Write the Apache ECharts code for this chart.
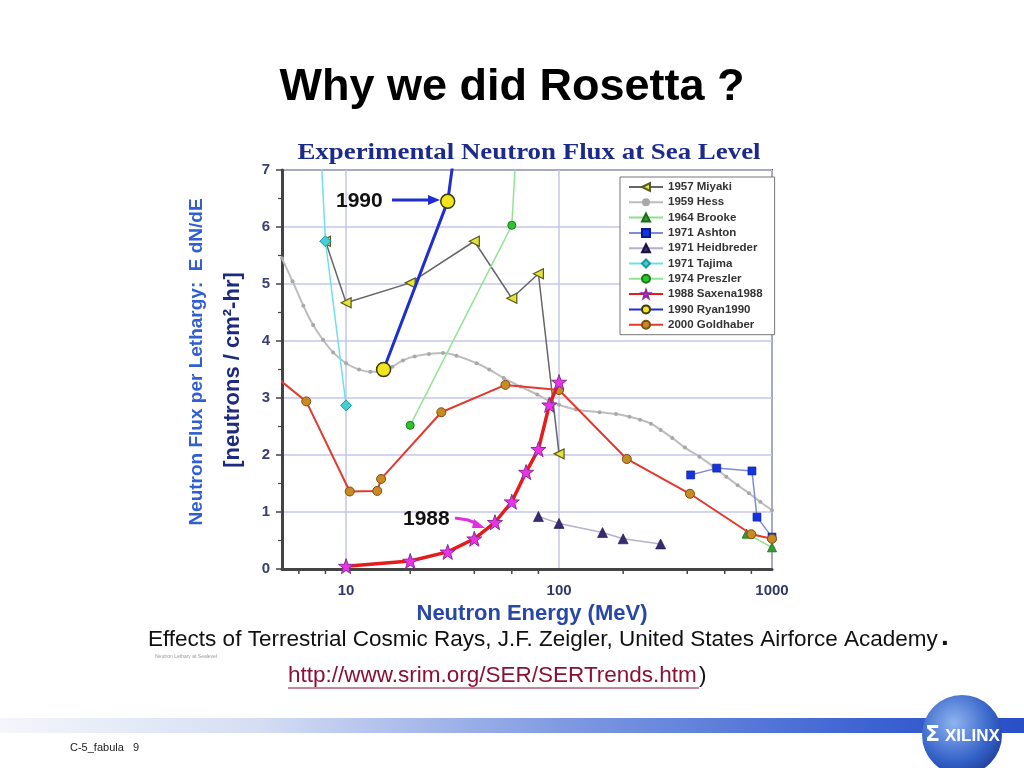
<!DOCTYPE html>
<html>
<head>
<meta charset="utf-8">
<script src="https://cdn.jsdelivr.net/npm/echarts@6/dist/echarts.min.js"></script>
<style>
html,body{margin:0;padding:0;background:#fff;}
#c{width:1024px;height:768px;}
</style>
</head>
<body>
<div id="c"></div>
<script>
// ---- data (x = neutron energy MeV, y = flux) ----
const miyakiX = [8, 10, 20, 40, 60, 80, 100];
const miyakiY = [5.75, 4.67, 5.02, 5.75, 4.75, 5.18, 2.02];

const hessX = [5, 5.6, 6.3, 7, 7.8, 8.7, 10, 11.5, 13, 15, 16.5, 18.5, 21, 24.5, 28.5, 33, 41, 47, 55, 66, 79, 90, 100, 120, 155, 185, 214, 240, 270, 300, 340, 390, 456, 530, 610, 690, 780, 880, 1000];
const hessY = [5.45, 5.05, 4.62, 4.28, 4.02, 3.80, 3.61, 3.50, 3.46, 3.47, 3.55, 3.66, 3.73, 3.77, 3.79, 3.74, 3.61, 3.50, 3.35, 3.20, 3.06, 2.95, 2.88, 2.80, 2.75, 2.72, 2.67, 2.62, 2.55, 2.44, 2.30, 2.13, 1.97, 1.80, 1.62, 1.47, 1.33, 1.18, 1.03];

const brookeX = [760, 1000];
const brookeY = [0.62, 0.38];

const ashtonX = [415, 550, 805, 850, 1000];
const ashtonY = [1.65, 1.77, 1.72, 0.91, 0.56];

const heidX = [80, 100, 160, 200, 300];
const heidY = [0.92, 0.80, 0.64, 0.53, 0.44];

const tajimaX = [7.5, 8, 10];
const tajimaY = [7.8, 5.75, 2.87];

const preszlerX = [20, 60, 65];
const preszlerY = [2.52, 6.03, 8.3];

const saxenaX = [10, 20, 30, 40, 50, 60, 70, 80, 90, 100];
const saxenaY = [0.05, 0.14, 0.30, 0.53, 0.82, 1.18, 1.70, 2.10, 2.88, 3.28];

const ryanX = [15, 30, 35];
const ryanY = [3.5, 6.45, 8.3];

const goldX = [4.5, 6.5, 10.4, 14, 14.6, 28, 56, 100, 208, 412, 800, 1000];
const goldY = [3.42, 2.94, 1.36, 1.37, 1.58, 2.75, 3.23, 3.14, 1.93, 1.32, 0.61, 0.53];

const xMinorTicks = [6, 8, 20, 40, 60, 80, 200, 400, 600, 800];
const yTicks = [0, 1, 2, 3, 4, 5, 6, 7];
const xTickLabels = [10, 100, 1000];

const names = ['1957 Miyaki', '1959 Hess', '1964 Brooke', '1971 Ashton', '1971 Heidbreder', '1971 Tajima', '1974 Preszler', '1988 Saxena1988', '1990 Ryan1990', '2000 Goldhaber'];

function pairs(xs, ys) { return xs.map((x, i) => [x, ys[i]]); }

const chart = echarts.init(document.getElementById('c'), null, {renderer: 'canvas'});

const option = {
  backgroundColor: '#ffffff',
  animation: false,
  grid: {left: 282, right: 252, top: 170, bottom: 199, show: true, borderColor: '#555', borderWidth: 2, backgroundColor: 'transparent'},
  legend: {
    data: names,
    orient: 'vertical',
    left: 620, top: 177,
    itemWidth: 34, itemHeight: 10, itemGap: 3.3,
    padding: [4, 12, 4, 8],
    backgroundColor: '#fff',
    borderColor: '#777', borderWidth: 1,
    textStyle: {fontFamily: 'Liberation Sans, Arial', fontSize: 11.5, fontWeight: 'bold', color: '#333'},
    selectedMode: false
  },
  xAxis: {
    type: 'log', logBase: 10, min: 5, max: 1000,
    axisLine: {show: true, lineStyle: {color: '#444', width: 3}},
    axisTick: {show: false},
    axisLabel: {
      margin: 14,
      fontFamily: 'Liberation Sans, Arial', fontSize: 15, fontWeight: 'bold', color: '#2f3a6a',
      formatter: function (v) {
        const r = xTickLabels.find(t => Math.abs(t - v) / t < 1e-6);
        return r ? String(r) : '';
      }
    },
    splitLine: {show: true, lineStyle: {color: '#c4c6ea', width: 1.5}}
  },
  yAxis: {
    type: 'value', min: 0, max: 7, interval: 1,
    axisLine: {show: true, lineStyle: {color: '#444', width: 3}},
    axisTick: {show: true, length: 6, lineStyle: {color: '#444', width: 1.5}},
    minorTick: {show: true, splitNumber: 2, length: 4, lineStyle: {color: '#444', width: 1.2}},
    axisLabel: {margin: 12, fontFamily: 'Liberation Sans, Arial', fontSize: 15, fontWeight: 'bold', color: '#3a4072',
      formatter: v => (yTicks.indexOf(v) >= 0 ? String(v) : '')},
    splitLine: {show: true, lineStyle: {color: '#c4c6ea', width: 1.5}}
  },
  series: [
    {
      type: 'custom', silent: true, clip: false, z: 1,
      data: xMinorTicks.map(v => [v, 0]),
      renderItem: function (params, api) {
        const p = api.coord([api.value(0), 0]);
        return {type: 'line', shape: {x1: p[0], y1: p[1], x2: p[0], y2: p[1] + 5}, style: {stroke: '#444', lineWidth: 1.5}};
      }
    },
    {
      name: names[1], type: 'line', smooth: true, data: pairs(hessX, hessY),
      symbol: 'circle', symbolSize: 4, z: 2,
      lineStyle: {color: '#bdbdbd', width: 2},
      itemStyle: {color: '#a8a8a8', borderWidth: 0}
    },
    {
      name: names[0], type: 'line', data: pairs(miyakiX, miyakiY),
      symbol: 'triangle', symbolRotate: 90, symbolSize: 10, z: 3,
      lineStyle: {color: '#666', width: 1.5},
      itemStyle: {color: '#e6e23a', borderColor: '#555a20', borderWidth: 1.2}
    },
    {
      name: names[2], type: 'line', data: pairs(brookeX, brookeY),
      symbol: 'triangle', symbolSize: 9, z: 3,
      lineStyle: {color: '#8ee08e', width: 1.5},
      itemStyle: {color: '#2ea02e', borderColor: '#1a6a1a', borderWidth: 0.8}
    },
    {
      name: names[3], type: 'line', data: pairs(ashtonX, ashtonY),
      symbol: 'rect', symbolSize: 8, z: 3,
      lineStyle: {color: '#7a8ed4', width: 1.5},
      itemStyle: {color: '#1434e0', borderColor: '#0a1a90', borderWidth: 0.6}
    },
    {
      name: names[4], type: 'line', data: pairs(heidX, heidY),
      symbol: 'triangle', symbolSize: 10, z: 3,
      lineStyle: {color: '#b7b0cc', width: 1.5},
      itemStyle: {color: '#3a2a72', borderColor: '#1a1040', borderWidth: 0.6}
    },
    {
      name: names[5], type: 'line', data: pairs(tajimaX, tajimaY),
      symbol: 'diamond', symbolSize: 11, z: 3,
      lineStyle: {color: '#6ee0ea', width: 1.5},
      itemStyle: {color: '#44cfd6', borderColor: '#1a9aa0', borderWidth: 1}
    },
    {
      name: names[6], type: 'line', data: pairs(preszlerX, preszlerY),
      symbol: 'circle', symbolSize: 8, z: 3,
      lineStyle: {color: '#92e492', width: 1.5},
      itemStyle: {color: '#2ec42e', borderColor: '#1a7a1a', borderWidth: 1}
    },
    {
      name: names[9], type: 'line', data: pairs(goldX, goldY),
      symbol: 'circle', symbolSize: 9, z: 4,
      lineStyle: {color: '#e2392e', width: 2},
      itemStyle: {color: '#c98a24', borderColor: '#7a4e10', borderWidth: 1}
    },
    {
      name: names[7], type: 'line', data: pairs(saxenaX, saxenaY),
      symbol: 'path://M0,-10 L2.35,-3.2 L9.5,-3.1 L3.8,1.2 L5.9,8.1 L0,4 L-5.9,8.1 L-3.8,1.2 L-9.5,-3.1 L-2.35,-3.2 Z', symbolSize: 15, z: 5,
      lineStyle: {color: '#e41c1c', width: 3.5},
      itemStyle: {color: '#e834e6', borderColor: '#8a2a9a', borderWidth: 1}
    },
    {
      name: names[8], type: 'line', data: pairs(ryanX, ryanY),
      symbol: 'circle', symbolSize: 14, z: 5,
      lineStyle: {color: '#1e2ed0', width: 3},
      itemStyle: {color: '#f2e41e', borderColor: '#3a3a10', borderWidth: 1.5}
    }
  ],
  graphic: [
    // slide title
    {type: 'text', x: 512, y: 88, style: {text: 'Why we did Rosetta ?', fontFamily: 'Liberation Sans, Arial', fontSize: 45, fontWeight: 'bold', fill: '#000', textAlign: 'center', textVerticalAlign: 'middle'}},
    // chart title
    {type: 'text', x: 529, y: 153, scaleX: 1.12, style: {text: 'Experimental Neutron Flux at Sea Level', fontFamily: 'Liberation Serif, Times New Roman, serif', fontSize: 24, fontWeight: 'bold', fill: '#1c2a8c', textAlign: 'center', textVerticalAlign: 'middle'}},
    // y axis names
    {type: 'text', x: 197, y: 362, rotation: Math.PI / 2, style: {text: 'Neutron Flux per Lethargy:  E dN/dE', fontFamily: 'Liberation Sans, Arial', fontSize: 19, fontWeight: 'bold', fill: '#2f5fd2', textAlign: 'center', textVerticalAlign: 'middle'}},
    {type: 'text', x: 233, y: 370, rotation: Math.PI / 2, style: {text: '[neutrons / cm²-hr]', fontFamily: 'Liberation Sans, Arial', fontSize: 22, fontWeight: 'bold', fill: '#1c2a80', textAlign: 'center', textVerticalAlign: 'middle'}},
    // x axis name
    {type: 'text', x: 532, y: 614, style: {text: 'Neutron Energy (MeV)', fontFamily: 'Liberation Sans, Arial', fontSize: 22, fontWeight: 'bold', fill: '#2748a8', textAlign: 'center', textVerticalAlign: 'middle'}},
    // annotations
    {type: 'text', x: 336, y: 201, z: 20, style: {text: '1990', fontFamily: 'Liberation Sans, Arial', fontSize: 21, fontWeight: 'bold', fill: '#111', textVerticalAlign: 'middle'}},
    {type: 'line', z: 20, shape: {x1: 392, y1: 200, x2: 430, y2: 200}, style: {stroke: '#1e2ed0', lineWidth: 3}},
    {type: 'polygon', z: 20, shape: {points: [[428, 195], [440, 200], [428, 205]]}, style: {fill: '#1e2ed0'}},
    {type: 'text', x: 403, y: 519, z: 20, style: {text: '1988', fontFamily: 'Liberation Sans, Arial', fontSize: 21, fontWeight: 'bold', fill: '#111', textVerticalAlign: 'middle'}},
    {type: 'polyline', z: 20, shape: {points: [[455, 518], [468, 520], [478, 524]]}, style: {stroke: '#e030e0', lineWidth: 3, fill: null}},
    {type: 'polygon', z: 20, shape: {points: [[474, 519], [485, 528], [472, 528]]}, style: {fill: '#e030e0'}},
    // caption
    {type: 'text', x: 148, y: 640, style: {text: 'Effects of Terrestrial Cosmic Rays, J.F. Zeigler, United States Airforce Academy', fontFamily: 'Liberation Sans, Arial', fontSize: 22.5, fill: '#111', textVerticalAlign: 'middle'}},
    {type: 'text', x: 941, y: 637, style: {text: '.', fontFamily: 'Liberation Sans, Arial', fontSize: 28, fontWeight: 'bold', fill: '#111', textVerticalAlign: 'middle'}},
    {type: 'text', x: 155, y: 657, style: {text: 'Neutron Lethary at Sealevel', fontFamily: 'Liberation Sans, Arial', fontSize: 5, fill: '#9a9a9a', textVerticalAlign: 'middle'}},
    {type: 'text', x: 288, y: 676, style: {text: 'http://www.srim.org/SER/SERTrends.htm', fontFamily: 'Liberation Sans, Arial', fontSize: 22.5, fill: '#8a1034', textVerticalAlign: 'middle'}},
    {type: 'line', shape: {x1: 288, y1: 688, x2: 699, y2: 688}, style: {stroke: '#8a1034', lineWidth: 1}},
    {type: 'text', x: 699, y: 676, style: {text: ')', fontFamily: 'Liberation Sans, Arial', fontSize: 22.5, fill: '#111', textVerticalAlign: 'middle'}},
    // footer bar
    {type: 'rect', shape: {x: 0, y: 718, width: 1024, height: 15}, style: {fill: new echarts.graphic.LinearGradient(0, 0, 1, 0, [
      {offset: 0, color: '#f4f6fb'}, {offset: 0.25, color: '#d6def4'}, {offset: 0.55, color: '#7f9ae2'}, {offset: 0.85, color: '#3d62d2'}, {offset: 1, color: '#2a4ec6'}])}},
    {type: 'text', x: 70, y: 748, style: {text: 'C-5_fabula   9', fontFamily: 'Liberation Sans, Arial', fontSize: 11, fill: '#222', textVerticalAlign: 'middle'}},
    // logo globe
    {type: 'circle', shape: {cx: 962, cy: 735, r: 40}, style: {fill: new echarts.graphic.RadialGradient(0.4, 0.35, 0.8, [
      {offset: 0, color: '#8fb4f0'}, {offset: 0.6, color: '#3462c8'}, {offset: 1, color: '#1a2f88'}])}},
    {type: 'text', x: 925, y: 735, style: {text: 'Σ', fontFamily: 'DejaVu Sans', fontSize: 22, fontWeight: 'bold', fill: '#fff', textVerticalAlign: 'middle'}},
    {type: 'text', x: 945, y: 736, style: {text: 'XILINX', fontFamily: 'Liberation Sans Narrow, Liberation Sans, Arial', fontSize: 17, fontWeight: 'bold', fill: '#fff', textVerticalAlign: 'middle'}}
  ]
};

chart.setOption(option);
</script>
</body>
</html>
